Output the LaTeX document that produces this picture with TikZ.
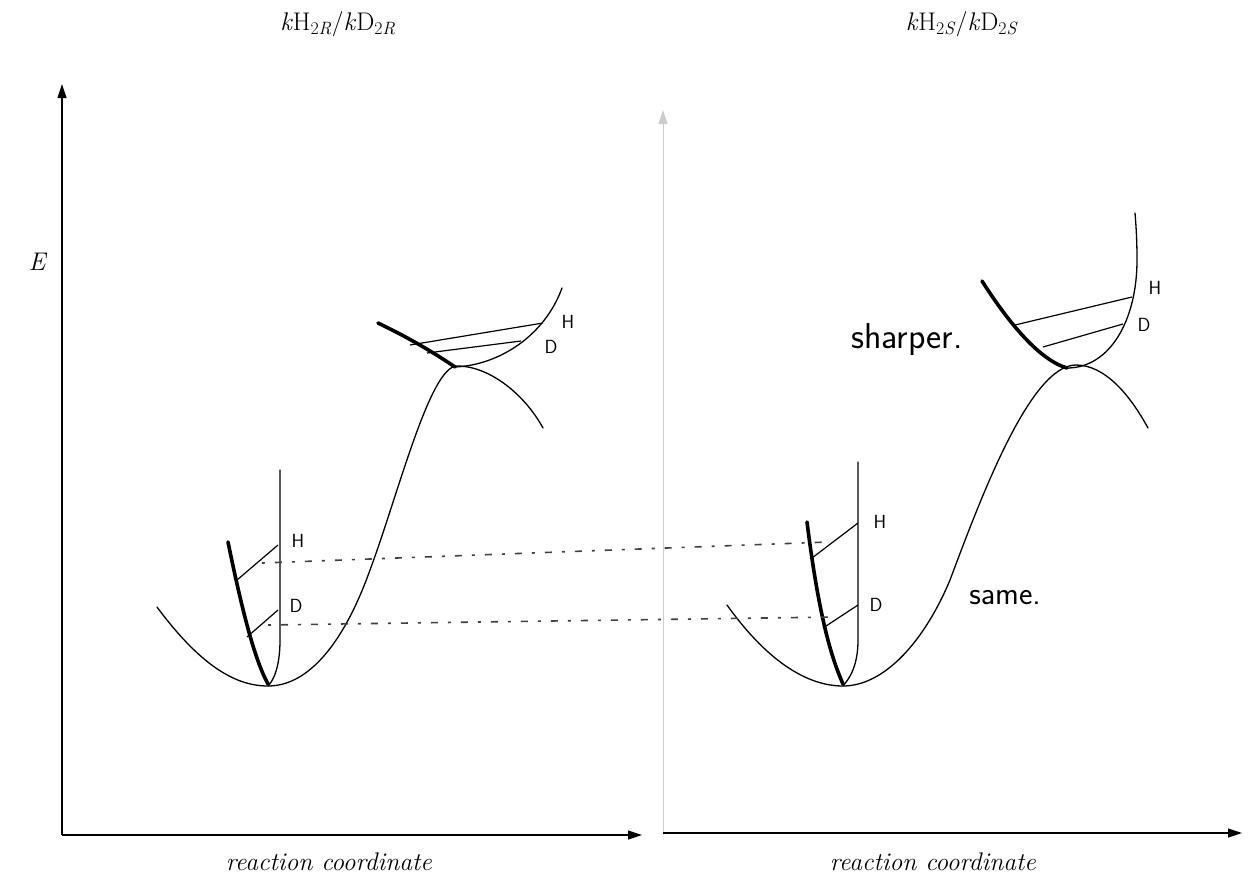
\documentclass[tikz,border=0pt]{standalone}
\usetikzlibrary{arrows.meta}

\begin{document}
\begin{tikzpicture}[x=1pt, y=-1pt, >={Triangle[length=14pt, width=9pt]},
    curve/.style={line width=1.3pt, line cap=round},
    bold curve/.style={line width=3.6pt, line cap=round},
    level/.style={line width=1.2pt},
    dotline/.style={line width=1.6pt, black!75, dash pattern=on 3pt off 10pt on 7pt off 10pt},
    serif text/.style={font=\fontsize{25.5}{29}\selectfont},
    hand/.style={font=\sffamily\fontsize{19}{21}\selectfont}]
    \useasboundingbox (0,0) rectangle (1255,881);

    % axes
    \coordinate (O1) at (62,835);
    \coordinate (Y1) at (62,84);
    \coordinate (X1) at (642,835);
    \coordinate (O2) at (663,833);
    \coordinate (Y2) at (663,110);
    \coordinate (X2) at (1242,833);
    \draw[->, line width=1.2pt] (O1) -- (Y1);
    \draw[->, line width=1.2pt] (O1) -- (X1);
    \draw[->, line width=1pt, black!20] (O2) -- (Y2);
    \draw[->, line width=1.2pt] (O2) -- (X2);

    \node[serif text] (titleR) at (338,24) {\textit{k}H\textsubscript{2\textit{R}}/\textit{k}D\textsubscript{2\textit{R}}};
    \node[serif text] (titleS) at (962,24) {\textit{k}H\textsubscript{2\textit{S}}/\textit{k}D\textsubscript{2\textit{S}}};
    \node[serif text] (E) at (38,262) {\textit{E}};
    \node[serif text] (rcR) at (329,862) {\textit{reaction coordinate}};
    \node[serif text] (rcS) at (933,862) {\textit{reaction coordinate}};

    % left: ground state well and barrier
    \draw[curve] (157,607) .. controls (200,665) and (235,686) .. (268,686)
        .. controls (310,686) and (345,640) .. (370,570)
        .. controls (398,495) and (430,366) .. (457,366)
        .. controls (490,366) and (525,395) .. (543,428);
    \draw[curve] (280,470) -- (280,640) .. controls (280,670) and (272,682) .. (268,686);
    \draw[bold curve] (228,542) .. controls (243,615) and (255,660) .. (268,684);
    \coordinate (lgH) at (237,580);
    \coordinate (lgD) at (247,637);
    \draw[level] (lgH) -- (278,545);
    \draw[level] (lgD) -- (278,610);
    \node[hand] (lH) at (298,541) {H};
    \node[hand] (lD) at (296,606) {D};

    % left: transition state
    \draw[bold curve] (378,323) .. controls (405,336) and (430,350) .. (455,367);
    \draw[curve] (455,367) .. controls (500,365) and (545,335) .. (562,288);
    \draw[level] (410,345) -- (543,323);
    \draw[level] (427,353) -- (521,341);
    \node[hand] (tH) at (568,322) {H};
    \node[hand] (tD) at (551,347) {D};

    % right: ground state well and barrier
    \draw[curve] (727,605) .. controls (770,665) and (810,686) .. (843,686)
        .. controls (885,686) and (925,640) .. (950,580)
        .. controls (980,500) and (1030,365) .. (1076,365)
        .. controls (1105,365) and (1130,395) .. (1148,428);
    \draw[curve] (858,462) -- (858,640) .. controls (858,668) and (848,680) .. (843,686);
    \draw[bold curve] (807,522) .. controls (818,610) and (830,655) .. (843,684);
    \coordinate (rgH) at (812,558);
    \coordinate (rgD) at (823,628);
    \draw[level] (rgH) -- (858,523);
    \draw[level] (rgD) -- (858,605);
    \node[hand] (rH) at (880,522) {H};
    \node[hand] (rD) at (876,605) {D};

    % right: transition state
    \draw[bold curve] (982,281) .. controls (1010,325) and (1040,360) .. (1067,368);
    \draw[curve] (1067,368) .. controls (1110,368) and (1137,320) .. (1137,260)
        .. controls (1137,240) and (1136,225) .. (1135,213);
    \draw[level] (1015,325) -- (1132,297);
    \draw[level] (1043,347) -- (1123,324);
    \node[hand] (sH) at (1155,288) {H};
    \node[hand] (sD) at (1144,325) {D};

    % matching zero-point levels
    \coordinate (hL) at (262,563);
    \coordinate (hR) at (828,542);
    \coordinate (dL) at (268,625);
    \coordinate (dR) at (834,617);
    \draw[dotline] (hL) -- (hR);
    \draw[dotline] (dL) -- (dR);

    \node[hand, font=\sffamily\fontsize{36}{38}\selectfont] (sharper) at (907,340) {sharper.};
    \node[hand, font=\sffamily\fontsize{32}{34}\selectfont] (same) at (1005,598) {same.};
\end{tikzpicture}
\end{document}
